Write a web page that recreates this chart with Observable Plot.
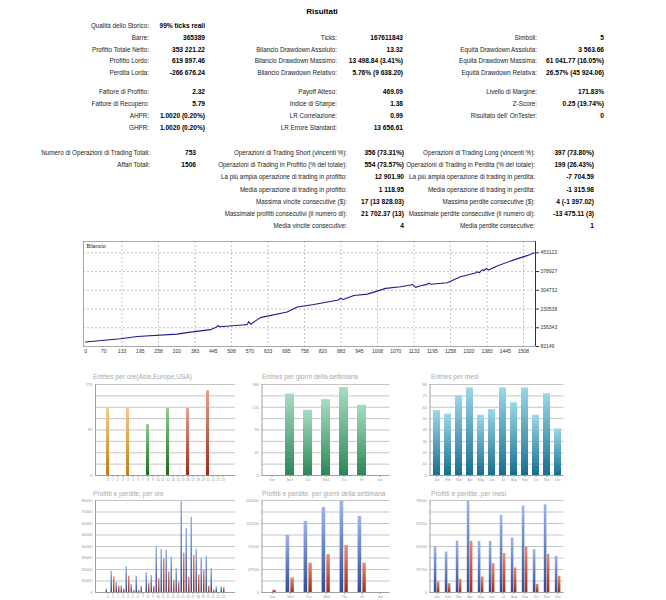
<!DOCTYPE html>
<html><head><meta charset="utf-8">
<script src="https://cdn.jsdelivr.net/npm/d3@7"></script>
<script src="https://cdn.jsdelivr.net/npm/@observablehq/plot@0.6"></script>
<style>
body{margin:0;background:#fff;}
#root{position:relative;width:666px;height:600px;overflow:hidden;font-family:"Liberation Sans",Arial,sans-serif;}
.t{position:absolute;white-space:nowrap;font-size:6.3px;line-height:8px;color:#222;width:400px;text-align:right;}
.v{font-weight:bold;color:#000;font-size:6.6px;}
.ttl{position:absolute;white-space:nowrap;font-size:8px;font-weight:bold;line-height:10px;color:#000;}
.pt{position:absolute;white-space:nowrap;font-size:6.6px;line-height:8px;color:#a9a9a9;}
.chart{position:absolute;}
.chart svg{overflow:visible;}
</style></head><body>
<svg width="0" height="0" style="position:absolute">
<defs>
<linearGradient id="gOr" x1="0" y1="0" x2="0" y2="1"><stop offset="0" stop-color="#f3cc86"/><stop offset="1" stop-color="#bf8016"/></linearGradient>
<linearGradient id="gGr" x1="0" y1="0" x2="0" y2="1"><stop offset="0" stop-color="#8ccf8c"/><stop offset="1" stop-color="#1d6c1d"/></linearGradient>
<linearGradient id="gRd" x1="0" y1="0" x2="0" y2="1"><stop offset="0" stop-color="#e8a08e"/><stop offset="1" stop-color="#9c2a18"/></linearGradient>
<linearGradient id="gTeal" x1="0" y1="0" x2="0" y2="1"><stop offset="0" stop-color="#a8dcc2"/><stop offset="1" stop-color="#2b8757"/></linearGradient>
<linearGradient id="gBl" x1="0" y1="0" x2="0" y2="1"><stop offset="0" stop-color="#9dd7ea"/><stop offset="1" stop-color="#186e8f"/></linearGradient>
<linearGradient id="gPB" x1="0" y1="0" x2="0" y2="1"><stop offset="0" stop-color="#9bb5ec"/><stop offset="1" stop-color="#2d4c9c"/></linearGradient>
<linearGradient id="gPR" x1="0" y1="0" x2="0" y2="1"><stop offset="0" stop-color="#ea8a72"/><stop offset="1" stop-color="#a42c16"/></linearGradient>
</defs></svg>
<div id="root"></div>
<script>
// ---------------- DATA ----------------
const reportTitle = "Risultati";

const blockA_col1Labels = ["Qualità dello Storico:", "Barre:", "Profitto Totale Netto:", "Profitto Lordo:", "Perdita Lorda:"];
const blockA_col1Values = ["99% ticks reali", "365389", "353 221.22", "619 897.46", "-266 676.24"];
const blockA_col2Labels = ["", "Ticks:", "Bilancio Drawdown Assoluto:", "Bilancio Drawdown Massimo:", "Bilancio Drawdown Relativo:"];
const blockA_col2Values = ["", "167611843", "13.32", "13 498.84 (3.41%)", "5.76% (9 638.20)"];
const blockA_col3Labels = ["", "Simboli:", "Equità Drawdown Assoluta:", "Equità Drawdown Massima:", "Equità Drawdown Relativa:"];
const blockA_col3Values = ["", "5", "3 563.66", "61 041.77 (16.05%)", "26.57% (45 924.06)"];

const blockB_col1Labels = ["Fattore di Profitto:", "Fattore di Recupero:", "AHPR:", "GHPR:"];
const blockB_col1Values = ["2.32", "5.79", "1.0020 (0.20%)", "1.0020 (0.20%)"];
const blockB_col2Labels = ["Payoff Atteso:", "Indice di Sharpe:", "LR Correlazione:", "LR Errore Standard:"];
const blockB_col2Values = ["469.09", "1.38", "0.99", "13 656.61"];
const blockB_col3Labels = ["Livello di Margine:", "Z-Score:", "Risultato dell' OnTester:", ""];
const blockB_col3Values = ["171.83%", "0.25 (19.74%)", "0", ""];

const blockC_col1Labels = ["Numero di Operazioni di Trading Totali:", "Affari Totali:", "", "", "", "", ""];
const blockC_col1Values = ["753", "1506", "", "", "", "", ""];
const blockC_col2Labels = ["Operazioni di Trading Short (vincenti %):", "Operazioni di Trading in Profitto (% del totale):", "La più ampia operazione di trading in profitto:", "Media operazione di trading in profitto:", "Massima vincite consecutive ($):", "Massimale profitti consecutivi (il numero di):", "Media vincite consecutive:"];
const blockC_col2Values = ["356 (73.31%)", "554 (73.57%)", "12 901.90", "1 118.95", "17 (13 828.03)", "21 702.37 (13)", "4"];
const blockC_col3Labels = ["Operazioni di Trading Long (vincenti %):", "Operazioni di Trading in Perdita (% del totale):", "La più ampia operazione di trading in perdita:", "Media operazione di trading in perdita:", "Massima perdite consecutive ($):", "Massimale perdite consecutive (il numero di):", "Media perdite consecutive:"];
const blockC_col3Values = ["397 (73.80%)", "199 (26.43%)", "-7 704.59", "-1 315.98", "4 (-1 397.02)", "-13 475.11 (3)", "1"];

// Balance curve (trade number, balance)
const balanceTrades = [0, 120, 178, 315, 361, 430, 450, 456, 462, 540, 556, 562, 568, 602, 694, 729, 786, 870, 878, 886, 924, 970, 1015, 1033, 1084, 1119, 1125, 1136, 1150, 1176, 1181, 1188, 1245, 1291, 1325, 1340, 1348, 1355, 1365, 1371, 1380, 1388, 1417, 1474, 1520, 1545];
const balanceValues = [100000, 112900, 122000, 131300, 139200, 148800, 158000, 165000, 160500, 167000, 168700, 181000, 170500, 196600, 219000, 238900, 248500, 266500, 273400, 268400, 284300, 289600, 305500, 312300, 318700, 325500, 328500, 316300, 322000, 328200, 333500, 328500, 334700, 358600, 368200, 372000, 378000, 374000, 386000, 383000, 391000, 385300, 401300, 425200, 442000, 453122];
const balanceSeriesName = "Bilancio";
const balanceXTickLabels = ["0", "70", "133", "195", "258", "320", "383", "445", "508", "570", "633", "695", "758", "820", "883", "945", "1008", "1070", "1133", "1195", "1258", "1320", "1383", "1445", "1508"];
const balanceYTicks = [82149, 156343, 230538, 304732, 378927, 453122];

// Small charts
const hourLabels = ["0","1","2","3","4","5","6","7","8","9","10","11","12","13","14","15","16","17","18","19","20","21","22","23"];
const dayLabels = ["Sun", "Mon", "Tue", "Wed", "Thu", "Fri", "Sat"];
const monthLabels = ["Jan", "Feb", "Mar", "Apr", "May", "Jun", "Jul", "Aug", "Sep", "Oct", "Nov", "Dec"];

const entriesPerHour = [125,0,0,0,125,0,0,0,95,0,0,0,125,0,0,0,125,0,0,0,158,0,0,0];
const entriesPerDay = [0, 161, 129, 150, 174, 139, 0];
const entriesPerMonth = [57, 54, 70, 77, 53, 58, 77, 64, 77, 53, 72, 41];

const profitPerHour = [2900,18500,8700,5800,22500,7200,14200,5500,17300,14700,39600,37500,37000,30900,20800,79100,55700,65300,37500,29700,31500,20800,4900,4900];
const lossPerHour = [0,13600,5500,2900,14200,1700,1700,0,8100,5500,12100,29200,17900,10700,8700,34100,13300,32300,15300,19300,5500,2000,0,4300];
const profitPerDay = [0, 93100, 115900, 138600, 148900, 124000, 0];
const lossPerDay = [3800, 23800, 47700, 61700, 76400, 47700, 0];
const profitPerMonth = [39100, 34800, 44200, 78400, 43900, 43900, 66200, 46800, 74200, 36800, 75300, 31100];
const lossPerMonth = [9100, 7700, 11400, 43900, 13400, 24800, 33400, 21100, 39100, 7100, 32800, 14000];

const entriesHourTicks = [0, 85, 170];
const entriesDayTicks = [0, 45, 90, 135, 180];
const entriesMonthTicks = [0, 10, 20, 30, 40, 50, 60, 70, 80];
const plHourTicks = [0, 10000, 20000, 30000, 40000, 50000, 60000, 70000, 80000];
const plDayTicks = [0, 37500, 75000, 112500, 150000];
const plMonthTicks = [0, 19750, 39500, 59250, 79000];

const panelTitles = ["Entries per ore(Asia,Europe,USA)", "Entries per giorni della settimana", "Entries per mesi",
  "Profitti e perdite, per ore", "Profitti e perdite, per giorni della settimana", "Profitti e perdite, per mesi"];

// ---------------- LAYOUT ----------------
const root = document.getElementById("root");
function txt(s, rightX, cy, cls) {
  if (!s) return;
  const d = document.createElement("div");
  d.className = "t" + (cls ? " " + cls : "");
  d.textContent = s;
  d.style.left = (rightX - 400) + "px";
  d.style.top = (cy - 4) + "px";
  root.appendChild(d);
}
function block(cols, rowsY, labelRight, valueRight) {
  cols.forEach((c, ci) => {
    c[0].forEach((lab, i) => txt(lab, labelRight[ci], rowsY[i]));
    c[1].forEach((val, i) => txt(val, valueRight[ci], rowsY[i], "v"));
  });
}
{
  const t = document.createElement("div");
  t.className = "ttl"; t.textContent = reportTitle;
  t.style.left = "0px"; t.style.width = "644px"; t.style.textAlign = "center"; t.style.top = "7px";
  root.appendChild(t);
}
block([[blockA_col1Labels, blockA_col1Values], [blockA_col2Labels, blockA_col2Values], [blockA_col3Labels, blockA_col3Values]],
  [26, 37.8, 49.5, 61.3, 73], [149, 337, 537], [205, 403, 604]);
block([[blockB_col1Labels, blockB_col1Values], [blockB_col2Labels, blockB_col2Values], [blockB_col3Labels, blockB_col3Values]],
  [92, 104, 116, 128], [149, 337, 537], [205, 403, 604]);
block([[blockC_col1Labels, blockC_col1Values], [blockC_col2Labels, blockC_col2Values], [blockC_col3Labels, blockC_col3Values]],
  [153, 165.2, 177.4, 189.6, 201.8, 214, 226.2], [150, 347, 535], [196, 404, 594]);

function place(svg, left, top) {
  const d = document.createElement("div");
  d.className = "chart";
  d.style.left = left + "px"; d.style.top = top + "px";
  d.appendChild(svg);
  root.appendChild(d);
}
const baseStyle = {background: "none", fontFamily: "Liberation Sans, Arial, sans-serif", color: "#222", overflow: "visible"};

// ---------- Balance chart ----------
{
  const data = balanceTrades.map((t, i) => ({trade: t, value: balanceValues[i]}));
  const lastTick = 1508;
  const xTickPos = balanceXTickLabels.map((_, i) => i * lastTick / (balanceXTickLabels.length - 1));
  const fmt = d => balanceXTickLabels[Math.round(d * (balanceXTickLabels.length - 1) / lastTick)];
  const svg = Plot.plot({
    width: 520, height: 126, marginLeft: 23, marginRight: 45, marginTop: 5, marginBottom: 16,
    style: {...baseStyle, fontSize: "5px"},
    x: {domain: [-7, 1549], label: null},
    y: {domain: [82149, 498000], label: null},
    marks: [
      Plot.ruleY(balanceYTicks.slice(1), {stroke: "#c4c4c4", strokeDasharray: "2,2"}),
      Plot.ruleX(xTickPos.filter((_, i) => i % 2 === 0 && i > 0), {stroke: "#c4c4c4", strokeDasharray: "2,2"}),
      Plot.frame({stroke: "#a8a8a8"}),
      Plot.ruleX([1549], {stroke: "#333"}),
      Plot.axisX({ticks: xTickPos, tickFormat: fmt, tickSize: 0, tickPadding: 2.5, fontSize: 5, color: "#333", label: null}),
      Plot.axisY({anchor: "right", ticks: balanceYTicks, tickFormat: d => String(d), tickSize: 3, tickPadding: 2, fontSize: 5, color: "#333", label: null}),
      Plot.line(data, {x: "trade", y: "value", stroke: "#1c1c96", strokeWidth: 1.1}),
      Plot.text([balanceSeriesName], {frameAnchor: "top-left", dx: 3, dy: 3, lineAnchor: "top", fontSize: 5.5, fill: "#222"})
    ]
  });
  place(svg, 60, 236);
}

// ---------- Small panels ----------
function gridVals(max) { return d3.range(9).map(i => max * i / 8); }
const axisStyle = {tickSize: 0, tickPadding: 3, fontSize: 4, color: "#999", label: null, tickFormat: d => String(d)};
const xAxisStyle = {tickSize: 2, tickPadding: 1, fontSize: 3.3, color: "#999", label: null};

function entriesPanel(cats, vals, ticks, max, left, top, width, ml, mr, pin, pout, fillFn) {
  const data = cats.map((c, i) => ({c, v: vals[i], f: fillFn(i)}));
  const fills = Array.from(new Set(data.map(d => d.f)));
  const svg = Plot.plot({
    width, height: 105, marginLeft: ml, marginRight: mr, marginTop: 4, marginBottom: 10,
    style: {...baseStyle, fontSize: "4px"},
    x: {type: "band", domain: cats, paddingInner: pin, paddingOuter: pout, label: null},
    y: {domain: [0, max], label: null},
    marks: [
      Plot.ruleY(gridVals(max), {stroke: "#c6c6c6"}),
      ...fills.map(f => Plot.barY(data.filter(d => d.f === f), {x: "c", y: "v", fill: f})),
      Plot.frame({anchor: "left", stroke: "#a0a0a0"}),
      Plot.ruleY([0], {stroke: "#a0a0a0"}),
      Plot.axisY({ticks, ...axisStyle}),
      Plot.axisX(xAxisStyle)
    ]
  });
  place(svg, left, top);
}

function plPanel(cats, profit, loss, ticks, max, left, top, width, ml, mr, insB, insR) {
  const data = cats.map((c, i) => ({c, p: profit[i], l: loss[i]}));
  const svg = Plot.plot({
    width, height: 106, marginLeft: ml, marginRight: mr, marginTop: 4, marginBottom: 10,
    style: {...baseStyle, fontSize: "4px"},
    x: {type: "band", domain: cats, padding: 0, label: null},
    y: {domain: [0, max], label: null},
    marks: [
      Plot.ruleY(gridVals(max), {stroke: "#c6c6c6"}),
      Plot.barY(data, {x: "c", y: "p", fill: "url(#gPB)", insetLeft: insB[0], insetRight: insB[1]}),
      Plot.barY(data, {x: "c", y: "l", fill: "url(#gPR)", insetLeft: insR[0], insetRight: insR[1]}),
      Plot.frame({anchor: "left", stroke: "#a0a0a0"}),
      Plot.ruleY([0], {stroke: "#a0a0a0"}),
      Plot.axisY({ticks, ...axisStyle}),
      Plot.axisX(xAxisStyle)
    ]
  });
  place(svg, left, top);
}

entriesPanel(hourLabels, entriesPerHour, entriesHourTicks, 170, 75, 380, 165, 20, 5, 0.42, 0.21,
  i => i < 8 ? "url(#gOr)" : i < 16 ? "url(#gGr)" : "url(#gRd)");
entriesPanel(dayLabels, entriesPerDay, entriesDayTicks, 180, 240, 380, 155, 21.5, 5.5, 0.5, 0.25, () => "url(#gTeal)");
entriesPanel(monthLabels, entriesPerMonth, entriesMonthTicks, 80, 410, 380, 160, 19.5, 6.5, 0.4, 0.2, () => "url(#gBl)");

plPanel(hourLabels, profitPerHour, lossPerHour, plHourTicks, 80000, 75, 496, 165, 20, 5, [0.5, 3.0], [3.0, 0.5]);
plPanel(dayLabels, profitPerDay, lossPerDay, plDayTicks, 150000, 240, 496, 155, 21.5, 5.5, [4.6, 9.8], [9.4, 5.2]);
plPanel(monthLabels, profitPerMonth, lossPerMonth, plMonthTicks, 79000, 410, 496, 160, 19.5, 6.5, [2.8, 5.6], [5.8, 2.6]);

const titlePos = [[93, 377], [262, 377], [431, 377], [93, 494], [262, 494], [431, 494]];
panelTitles.forEach((s, i) => {
  const d = document.createElement("div");
  d.className = "pt"; d.textContent = s;
  d.style.left = titlePos[i][0] + "px"; d.style.top = (titlePos[i][1] - 4) + "px";
  root.appendChild(d);
});
</script>
</body></html>
